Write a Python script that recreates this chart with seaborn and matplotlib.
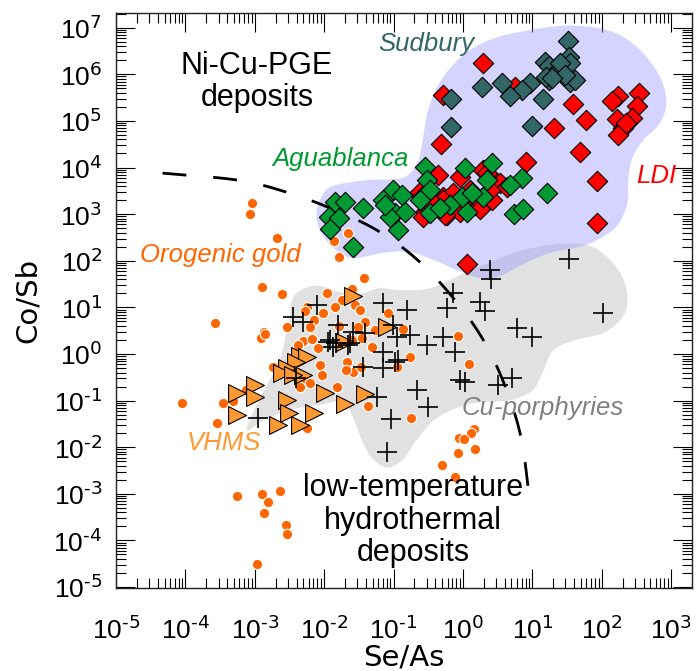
import numpy as np
import pandas as pd
import matplotlib
matplotlib.use("Agg")
import matplotlib.pyplot as plt
import seaborn as sns
from matplotlib.ticker import FixedLocator, FixedFormatter, LogLocator, NullFormatter

# ---- data (log10 of the ratios) ----
sudbury_log_se_as = [1.52, 1.53, 1.18, 1.24, 1.54, 1.33, 1.24, 1.37, 1.54, 1.62, 0.97, 0.85,
                     0.56, 0.68, 1.15, 1.00, 0.28, -0.17, -0.17, 1.40, 1.47, 1.20, 1.28]
sudbury_log_co_sb = [6.71, 6.37, 6.26, 6.18, 6.24, 6.01, 5.88, 6.09, 5.83, 5.88, 5.81, 5.66,
                     5.81, 5.53, 5.47, 4.89, 5.73, 5.47, 4.87, 6.24, 5.98, 5.95, 5.92]

ldi_log_se_as = [0.29, -0.29, -0.32, 1.59, 1.77, 1.31, 1.69, 0.91, 1.93, 1.93, 0.06, 2.24,
                 2.54, 2.15, 2.51, 2.22, 2.44, 2.31, 2.24, 0.75, -0.36, -0.04, 0.29, 0.49,
                 -0.62, -0.55, -0.29, -0.23, -0.09, 0.06, -0.14, 0.17, 0.29, 0.42, 0.53,
                 -0.59, -0.29, 0.03, 0.20, 0.35, 0.64, -0.04, -0.26, -0.58, -0.43, 0.10,
                 0.39, 2.35, 0.24]
ldi_log_co_sb = [6.24, 5.56, 4.50, 5.36, 5.02, 4.85, 4.33, 4.12, 3.71, 2.81, 1.93, 5.53,
                 5.60, 5.43, 5.32, 5.04, 5.06, 4.85, 4.70, 5.73, 3.84, 3.80, 3.95, 3.67,
                 3.47, 3.05, 3.37, 2.98, 3.20, 3.30, 3.45, 3.20, 3.24, 3.30, 3.67,
                 3.37, 3.30, 3.30, 3.35, 3.88, 3.58, 3.05, 2.98, 2.94, 3.24, 3.52,
                 3.52, 4.95, 3.10]

aguablanca_log_se_as = [-0.55, 0.03, 0.42, 0.85, 1.21, 0.74, 0.87, 0.68, -0.52, -0.48, -1.01,
                        -0.88, -0.94, -0.98, -0.48, 0.06, -0.01, 0.29, 0.35, 0.13, -0.62,
                        -1.85, -1.70, -1.93, -1.79, -1.92, -1.59, -1.44, -1.15, -1.05, -1.13,
                        -0.84, -0.19, -0.33]
aguablanca_log_co_sb = [4.01, 3.99, 4.10, 3.77, 3.45, 3.00, 3.11, 3.62, 3.73, 3.52, 3.52,
                        3.41, 2.66, 3.02, 3.02, 3.05, 3.37, 3.37, 3.73, 3.45, 3.30,
                        3.26, 3.26, 2.94, 2.92, 2.68, 2.29, 3.13, 3.30, 2.94, 3.20,
                        3.05, 3.20, 3.13]

gold_log_se_as = [-3.04, -3.07, -2.68, -1.66, -1.86, -1.79, -1.43, -2.89, -2.61, -1.96, -1.60,
                  -1.75, -1.56, -1.49, -3.58, -2.87, -2.91, -2.54, -2.25, -2.27, -2.14, -2.21,
                  -2.02, -1.85, -1.79, -1.41, -2.31, -2.18, -1.60, -1.31, -1.27, -2.09, -1.67,
                  -2.06, -1.59, -2.03, -2.74, -2.31, -2.35, -1.82, -3.12, -3.46, -3.32, -4.05,
                  -3.55, -2.21, -2.25, -1.37, -0.95, -1.08, -1.52, -1.46, -1.69, -1.47, -0.87,
                  -0.76, -0.07, 0.09, -0.75, 0.16, 0.12, -0.06, 0.01, 0.17, -0.07, -0.30,
                  -0.12, -3.26, -2.90, -2.64, -2.81, -2.87, -2.55, -2.54, -2.97, -2.86, -2.38,
                  -2.21]
gold_log_co_sb = [3.24, 3.00, 2.49, 2.59, 2.42, 2.08, 1.63, 1.44, 1.29, 1.31, 1.39,
                  1.16, 1.05, 0.94, 0.66, 0.47, 0.34, 0.58, 1.01, 0.92, 0.73, 0.58,
                  0.88, 1.01, 0.60, 0.68, 0.28, 0.32, 0.30, 0.15, 0.51, 0.13, -0.17,
                  -0.24, -0.39, -0.45, -0.28, -0.56, -0.71, -0.71, -0.77, -1.05, -1.01, -1.05,
                  -1.48, -1.25, -1.59, -1.12, -0.28, 0.88, 0.58, 0.34, -0.35, -0.28, 0.53,
                  -0.07, 0.38, -0.22, -1.38, -1.61, -1.70, -1.80, -1.83, -2.04, -2.13, -2.38,
                  -2.64, -3.05, -3.01, -2.94, -3.18, -3.41, -3.67, -3.86, -4.51, 0.43, 0.19,
                  -0.62]

vhms_log_se_as = [-1.59, -1.10, -1.70, -2.35, -2.25, -2.40, -2.54, -2.61, -2.31, -2.45, -3.00,
                  -3.25, -3.00, -2.54, -2.50, -2.14, -1.99, -1.70, -1.41, -3.26, -2.67, -2.35]
vhms_log_co_sb = [1.24, 0.58, 0.26, -0.05, -0.07, -0.17, -0.30, -0.41, -0.45, -0.45, -0.67,
                  -0.84, -0.92, -0.99, -1.27, -1.27, -0.84, -1.08, -0.86, -1.31, -1.53, -1.53]

porphyry_log_se_as = [1.53, 0.39, 0.40, 2.02, -0.14, 0.25, 0.32, -0.23, -0.81, -1.15, 0.78,
                      1.00, -0.29, -0.52, -0.12, -0.94, -1.15, -1.44, -1.15, -0.77, -0.95,
                      -1.59, -1.66, -0.04, 0.03, 0.51, 0.71, -0.66, -1.24, -0.51, -1.04,
                      -1.10, -2.45, -2.11, -2.31, -1.80, -1.95, -1.88, -1.92, -1.83, -1.41,
                      -1.01, -2.40, -2.96, -1.63, -0.98]
porphyry_log_co_sb = [2.04, 1.80, 1.61, 0.88, 1.31, 1.11, 0.92, 0.99, 0.94, 1.09, 0.56,
                      0.36, 0.36, 0.19, 0.04, -0.13, 0.04, -0.28, -0.30, 0.41, 0.36,
                      0.47, 0.19, -0.56, -0.60, -0.67, -0.52, -0.77, -0.92, -1.14, -1.40,
                      -2.11, 0.79, 1.05, 0.68, 0.62, 0.26, 0.15, 0.30, 0.23, 0.45,
                      0.62, -0.52, -1.38, 0.23, -0.17]

# outline of the Ni-Cu-PGE field (log10 Se/As, log10 Co/Sb)
nicupge_field_x = [-2.11, -2.04, -1.88, -1.39, -0.87, -0.66, -0.58, -0.51, -0.33, 0.00, 0.39,
                   0.82, 1.44, 2.02, 2.44, 2.80, 2.93, 2.84, 2.60, 2.44, 2.38, 2.37, 2.22,
                   1.93, 1.65, 1.26, 0.87, 0.53, 0.25, -0.09, -0.43, -0.77, -1.15, -1.59,
                   -1.88, -2.06]
nicupge_field_y = [3.02, 3.37, 3.60, 3.73, 3.78, 4.10, 4.59, 5.19, 5.84, 6.41, 6.74,
                   6.91, 7.04, 6.97, 6.67, 6.05, 5.45, 4.96, 4.59, 4.20, 3.73, 3.24, 2.75,
                   2.44, 2.29, 2.17, 1.93, 1.67, 1.63, 1.80, 2.02, 2.19, 2.17, 2.06,
                   2.29, 2.66]

# outline of the Cu-porphyry field
porphyry_field_x = [-3.12, -2.90, -2.64, -2.51, -2.45, -2.28, -2.06, -1.78, -1.49, -1.20, -0.91,
                    -0.48, -0.04, 0.39, 0.87, 1.40, 1.83, 2.15, 2.34, 2.34, 2.05, 1.62,
                    1.30, 1.15, 1.00, 0.68, 0.17, -0.16, -0.45, -0.69, -0.87, -1.10, -1.31,
                    -1.46, -1.57, -1.73, -2.06, -2.50, -2.86]
porphyry_field_y = [-1.63, -0.88, -0.13, 0.73, 1.20, 1.41, 1.46, 1.33, 1.29, 1.41, 1.37,
                    1.41, 1.69, 1.97, 2.23, 2.36, 2.32, 1.97, 1.48, 0.90, 0.47, 0.30,
                    0.08, -0.39, -0.78, -0.99, -1.05, -1.20, -1.46, -1.89, -2.27, -2.44, -2.23,
                    -1.84, -1.41, -1.03, -1.09, -1.20, -1.41]

# boundary between magmatic and low-temperature hydrothermal deposits
boundary_x = [-4.33, -3.25, -2.54, -1.85, -1.20, -0.62, -0.09, 0.32, 0.63, 0.84, 0.94]
boundary_y = [3.88, 3.73, 3.47, 3.09, 2.62, 1.97, 1.11, 0.23, -0.78, -1.81, -2.88]

x_ticks = [-5, -4, -3, -2, -1, 0, 1, 2, 3]
y_ticks = [-5, -4, -3, -2, -1, 0, 1, 2, 3, 4, 5, 6, 7]
x_tick_labels = [r"$10^{\text{%d}}$" % e for e in x_ticks]
y_tick_labels = [r"$10^{\text{%d}}$" % e for e in y_ticks]


def catmull_rom(xs, ys, closed=True, n=24):
    pts = np.column_stack([xs, ys]).astype(float)
    if not closed:
        pts = np.vstack([2 * pts[0] - pts[1], pts, 2 * pts[-1] - pts[-2]])
    m = len(pts)
    segs = []
    rng = range(m) if closed else range(1, m - 2)
    t = np.linspace(0, 1, n, endpoint=False)[:, None]
    for i in rng:
        p0, p1, p2, p3 = pts[(i - 1) % m], pts[i], pts[(i + 1) % m], pts[(i + 2) % m]
        segs.append(0.5 * (2 * p1 + (-p0 + p2) * t + (2 * p0 - 5 * p1 + 4 * p2 - p3) * t ** 2
                           + (-p0 + 3 * p1 - 3 * p2 + p3) * t ** 3))
    out = np.vstack(segs)
    if not closed:
        out = np.vstack([out, pts[-2]])
    return out[:, 0], out[:, 1]


sns.set_style("ticks")
plt.rcParams["font.family"] = ["Liberation Sans", "DejaVu Sans"]
plt.rcParams["mathtext.fontset"] = "custom"
plt.rcParams["mathtext.rm"] = "Liberation Sans Narrow"
plt.rcParams["mathtext.it"] = "Liberation Sans Narrow:italic"
plt.rcParams["mathtext.default"] = "regular"
plt.rcParams["text.color"] = "black"
plt.rcParams["axes.labelcolor"] = "black"

fig = plt.figure(figsize=(6.96, 6.71), dpi=100)
ax = fig.add_axes([116 / 696, 83 / 671, 576 / 696, 575 / 671])
ax.set_xscale("log")
ax.set_yscale("log")

# shaded fields
gx, gy = catmull_rom(porphyry_field_x, porphyry_field_y)
ax.fill(10 ** gx, 10 ** gy, color="#e1e1e1", lw=0, zorder=1)
bx, by = catmull_rom(nicupge_field_x, nicupge_field_y)
ax.fill(10 ** bx, 10 ** by, color=(0.6, 0.6, 1.0), alpha=0.42, lw=0, zorder=1.5)

# dashed boundary
lx, ly = catmull_rom(boundary_x, boundary_y, closed=False)
ax.plot(10 ** lx, 10 ** ly, color="black", lw=2.0, dashes=(8.6, 9.7),
        dash_capstyle="butt", zorder=2)


def frame(xs, ys, name):
    return pd.DataFrame({"Se/As": 10 ** np.asarray(xs), "Co/Sb": 10 ** np.asarray(ys), "group": name})


groups = [
    (frame(gold_log_se_as, gold_log_co_sb, "Orogenic gold"),
     dict(marker="o", s=55, color="#ff6600", edgecolor="white", linewidth=0.8)),
    (frame(vhms_log_se_as, vhms_log_co_sb, "VHMS"),
     dict(marker=">", s=165, color="#ff9933", edgecolor="black", linewidth=0.8)),
    (frame(porphyry_log_se_as, porphyry_log_co_sb, "Cu-porphyries"),
     dict(marker="+", s=190, color="black", linewidth=1.2)),
    (frame(ldi_log_se_as, ldi_log_co_sb, "LDI"),
     dict(marker="D", s=108, color="#ff0000", edgecolor="black", linewidth=0.8)),
    (frame(aguablanca_log_se_as, aguablanca_log_co_sb, "Aguablanca"),
     dict(marker="D", s=108, color="#009933", edgecolor="black", linewidth=0.8)),
    (frame(sudbury_log_se_as, sudbury_log_co_sb, "Sudbury"),
     dict(marker="D", s=108, color="#336666", edgecolor="black", linewidth=0.8)),
]
for z, (df, kw) in enumerate(groups):
    sns.scatterplot(data=df, x="Se/As", y="Co/Sb", ax=ax, zorder=3 + z, legend=False, **kw)

ax.set_xlim(10 ** -5.0, 10 ** 3.3)
ax.set_ylim(10 ** -5.02, 10 ** 7.315)

ax.xaxis.set_major_locator(FixedLocator([10.0 ** e for e in x_ticks]))
ax.xaxis.set_major_formatter(FixedFormatter(x_tick_labels))
ax.yaxis.set_major_locator(FixedLocator([10.0 ** e for e in y_ticks]))
ax.yaxis.set_major_formatter(FixedFormatter(y_tick_labels))
for axis in (ax.xaxis, ax.yaxis):
    axis.set_minor_locator(LogLocator(base=10, subs=np.arange(2, 10), numticks=30))
    axis.set_minor_formatter(NullFormatter())

ax.tick_params(which="both", direction="in", top=True, right=True, width=0.8,
               color="black", labelcolor="black", labelsize=19)
ax.tick_params(which="major", length=13.5, pad=10)
ax.tick_params(which="minor", length=7)
ax.tick_params(axis="x", which="major", pad=20)
for sp in ax.spines.values():
    sp.set_linewidth(1.0)
    sp.set_color("#222222")

ax.set_xlabel("Se/As", fontsize=21, family="Liberation Sans Narrow", va="top", color="black")
ax.xaxis.set_label_coords(0.5, -0.097)
ax.set_ylabel("Co/Sb", fontsize=21, family="Liberation Sans Narrow", labelpad=8, color="black")

# field and deposit labels
ax.text(0.245, 0.880, "Ni-Cu-PGE\ndeposits", transform=ax.transAxes, ha="center", va="center",
        fontsize=22, linespacing=1.1, color="black", zorder=20)
ax.text(0.516, 0.117, "low-temperature\nhydrothermal\ndeposits", transform=ax.transAxes,
        ha="center", va="center", fontsize=22, linespacing=1.1, color="black", zorder=20)
label_kw = dict(transform=ax.transAxes, ha="center", va="center", fontsize=18.5,
                style="italic", zorder=20)
ax.text(0.538, 0.946, "Sudbury", color="#336666", **label_kw)
ax.text(0.389, 0.746, "Aguablanca", color="#009933", **label_kw)
ax.text(0.9375, 0.7165, "LDI", color="#ff0000", **label_kw)
ax.text(0.1806, 0.579, "Orogenic gold", color="#ff6600", **label_kw)
ax.text(0.1875, 0.252, "VHMS", color="#ff9933", **label_kw)
ax.text(0.741, 0.313, "Cu-porphyries", color="#808080", **label_kw)

fig.savefig("out.png", dpi=100, facecolor="white")
